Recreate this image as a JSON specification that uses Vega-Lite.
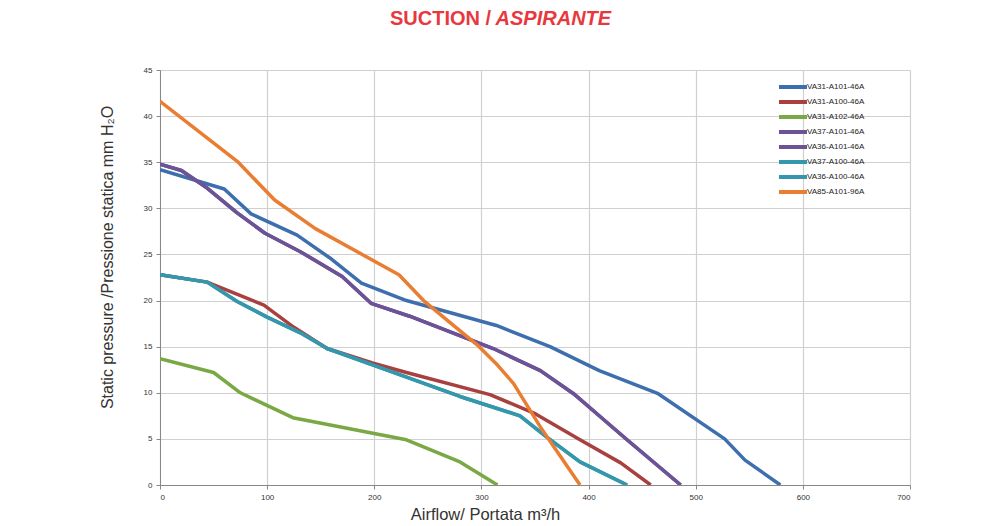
{
  "$schema": "https://vega.github.io/schema/vega-lite/v6.json",
  "autosize": "none",
  "width": 750,
  "height": 415,
  "padding": {"left": 160, "top": 70, "right": 90, "bottom": 41},
  "background": "white",
  "title": {
    "text": "SUCTION /",
    "subtitle": "\u200b\u00a0\u00a0\u00a0\u00a0\u00a0\u00a0\u00a0\u00a0\u00a0\u00a0\u00a0\u00a0\u00a0\u00a0\u00a0\u00a0\u00a0\u00a0\u00a0ASPIRANTE",
    "anchor": "start",
    "frame": "group",
    "dx": 230,
    "offset": 37,
    "font": "Liberation Sans",
    "fontSize": 20,
    "fontWeight": "bold",
    "color": "#e8383d",
    "subtitleFont": "Liberation Sans",
    "subtitleFontSize": 20,
    "subtitleFontWeight": "bold",
    "subtitleFontStyle": "italic",
    "subtitleColor": "#e8383d",
    "subtitlePadding": -20
  },
  "data": {
    "values": [
      {"s": "VA31-A101-46A", "x": 0, "y": 34.2},
      {"s": "VA31-A101-46A", "x": 60, "y": 32.1},
      {"s": "VA31-A101-46A", "x": 85, "y": 29.4},
      {"s": "VA31-A101-46A", "x": 128, "y": 27.1},
      {"s": "VA31-A101-46A", "x": 160, "y": 24.5},
      {"s": "VA31-A101-46A", "x": 188, "y": 21.9},
      {"s": "VA31-A101-46A", "x": 230, "y": 20.0},
      {"s": "VA31-A101-46A", "x": 314, "y": 17.3},
      {"s": "VA31-A101-46A", "x": 364, "y": 15.0},
      {"s": "VA31-A101-46A", "x": 410, "y": 12.4},
      {"s": "VA31-A101-46A", "x": 465, "y": 9.9},
      {"s": "VA31-A101-46A", "x": 527, "y": 5.0},
      {"s": "VA31-A101-46A", "x": 546, "y": 2.7},
      {"s": "VA31-A101-46A", "x": 579, "y": 0},
      {"s": "VA31-A100-46A", "x": 0, "y": 22.8},
      {"s": "VA31-A100-46A", "x": 44, "y": 22.0},
      {"s": "VA31-A100-46A", "x": 97, "y": 19.5},
      {"s": "VA31-A100-46A", "x": 125, "y": 17.1},
      {"s": "VA31-A100-46A", "x": 156, "y": 14.8},
      {"s": "VA31-A100-46A", "x": 199, "y": 13.2},
      {"s": "VA31-A100-46A", "x": 230, "y": 12.2},
      {"s": "VA31-A100-46A", "x": 308, "y": 9.8},
      {"s": "VA31-A100-46A", "x": 349, "y": 7.8},
      {"s": "VA31-A100-46A", "x": 392, "y": 4.9},
      {"s": "VA31-A100-46A", "x": 430, "y": 2.4},
      {"s": "VA31-A100-46A", "x": 458, "y": 0},
      {"s": "VA31-A102-46A", "x": 0, "y": 13.7},
      {"s": "VA31-A102-46A", "x": 50, "y": 12.2},
      {"s": "VA31-A102-46A", "x": 75, "y": 10.0},
      {"s": "VA31-A102-46A", "x": 124, "y": 7.3},
      {"s": "VA31-A102-46A", "x": 230, "y": 4.9},
      {"s": "VA31-A102-46A", "x": 280, "y": 2.5},
      {"s": "VA31-A102-46A", "x": 315, "y": 0},
      {"s": "VA37-A101-46A", "x": 0, "y": 34.8},
      {"s": "VA37-A101-46A", "x": 20, "y": 34.1},
      {"s": "VA37-A101-46A", "x": 44, "y": 32.2},
      {"s": "VA37-A101-46A", "x": 72, "y": 29.5},
      {"s": "VA37-A101-46A", "x": 98, "y": 27.3},
      {"s": "VA37-A101-46A", "x": 131, "y": 25.3},
      {"s": "VA37-A101-46A", "x": 170, "y": 22.6},
      {"s": "VA37-A101-46A", "x": 197, "y": 19.7},
      {"s": "VA37-A101-46A", "x": 233, "y": 18.3},
      {"s": "VA37-A101-46A", "x": 311, "y": 14.8},
      {"s": "VA37-A101-46A", "x": 355, "y": 12.4},
      {"s": "VA37-A101-46A", "x": 386, "y": 9.9},
      {"s": "VA37-A101-46A", "x": 411, "y": 7.4},
      {"s": "VA37-A101-46A", "x": 434, "y": 5.1},
      {"s": "VA37-A101-46A", "x": 486, "y": 0},
      {"s": "VA36-A101-46A", "x": 0, "y": 34.8},
      {"s": "VA36-A101-46A", "x": 20, "y": 34.1},
      {"s": "VA36-A101-46A", "x": 44, "y": 32.2},
      {"s": "VA36-A101-46A", "x": 72, "y": 29.5},
      {"s": "VA36-A101-46A", "x": 98, "y": 27.3},
      {"s": "VA36-A101-46A", "x": 131, "y": 25.3},
      {"s": "VA36-A101-46A", "x": 170, "y": 22.6},
      {"s": "VA36-A101-46A", "x": 197, "y": 19.7},
      {"s": "VA36-A101-46A", "x": 233, "y": 18.3},
      {"s": "VA36-A101-46A", "x": 311, "y": 14.8},
      {"s": "VA36-A101-46A", "x": 355, "y": 12.4},
      {"s": "VA36-A101-46A", "x": 386, "y": 9.9},
      {"s": "VA36-A101-46A", "x": 411, "y": 7.4},
      {"s": "VA36-A101-46A", "x": 434, "y": 5.1},
      {"s": "VA36-A101-46A", "x": 486, "y": 0},
      {"s": "VA37-A100-46A", "x": 0, "y": 22.8},
      {"s": "VA37-A100-46A", "x": 44, "y": 22.0},
      {"s": "VA37-A100-46A", "x": 72, "y": 19.9},
      {"s": "VA37-A100-46A", "x": 100, "y": 18.2},
      {"s": "VA37-A100-46A", "x": 131, "y": 16.5},
      {"s": "VA37-A100-46A", "x": 156, "y": 14.8},
      {"s": "VA37-A100-46A", "x": 199, "y": 13.0},
      {"s": "VA37-A100-46A", "x": 280, "y": 9.6},
      {"s": "VA37-A100-46A", "x": 336, "y": 7.5},
      {"s": "VA37-A100-46A", "x": 361, "y": 5.2},
      {"s": "VA37-A100-46A", "x": 392, "y": 2.5},
      {"s": "VA37-A100-46A", "x": 436, "y": 0},
      {"s": "VA36-A100-46A", "x": 0, "y": 22.8},
      {"s": "VA36-A100-46A", "x": 44, "y": 22.0},
      {"s": "VA36-A100-46A", "x": 72, "y": 19.9},
      {"s": "VA36-A100-46A", "x": 100, "y": 18.2},
      {"s": "VA36-A100-46A", "x": 131, "y": 16.5},
      {"s": "VA36-A100-46A", "x": 156, "y": 14.8},
      {"s": "VA36-A100-46A", "x": 199, "y": 13.0},
      {"s": "VA36-A100-46A", "x": 280, "y": 9.6},
      {"s": "VA36-A100-46A", "x": 336, "y": 7.5},
      {"s": "VA36-A100-46A", "x": 361, "y": 5.2},
      {"s": "VA36-A100-46A", "x": 392, "y": 2.5},
      {"s": "VA36-A100-46A", "x": 436, "y": 0},
      {"s": "VA85-A101-96A", "x": 0, "y": 41.6},
      {"s": "VA85-A101-96A", "x": 73, "y": 35.0},
      {"s": "VA85-A101-96A", "x": 107, "y": 30.9},
      {"s": "VA85-A101-96A", "x": 145, "y": 27.8},
      {"s": "VA85-A101-96A", "x": 223, "y": 22.8},
      {"s": "VA85-A101-96A", "x": 246, "y": 20.0},
      {"s": "VA85-A101-96A", "x": 273, "y": 17.4},
      {"s": "VA85-A101-96A", "x": 296, "y": 15.2},
      {"s": "VA85-A101-96A", "x": 315, "y": 13.0},
      {"s": "VA85-A101-96A", "x": 330, "y": 11.0},
      {"s": "VA85-A101-96A", "x": 355, "y": 6.3},
      {"s": "VA85-A101-96A", "x": 392, "y": 0}
    ]
  },
  "mark": {"type": "line", "strokeWidth": 3.5, "strokeCap": "butt", "strokeJoin": "round", "clip": true},
  "encoding": {
    "x": {
      "field": "x", "type": "quantitative",
      "scale": {"domain": [0, 700], "nice": false, "zero": true},
      "axis": {
        "values": [0, 100, 200, 300, 400, 500, 600, 700],
        "title": "Airflow/ Portata  m³/h",
        "titleFont": "Liberation Sans", "titleFontSize": 16.5, "titleFontWeight": "normal", "titleColor": "#333333",
        "titleX": 325, "titleY": 34, "titleBaseline": "alphabetic", "titleAlign": "center",
        "labelFont": "Liberation Sans", "labelFontSize": 8, "labelColor": "#333333", "labelPadding": 4,
        "tickSize": 4, "tickColor": "#888888", "domainColor": "#888888",
        "gridColor": "#d0d0d0", "gridWidth": 1.2
      }
    },
    "y": {
      "field": "y", "type": "quantitative",
      "scale": {"domain": [0, 45], "nice": false},
      "axis": {
        "values": [0, 5, 10, 15, 20, 25, 30, 35, 40, 45],
        "title": "Static pressure /Pressione statica  mm  H₂O",
        "titleFont": "Liberation Sans", "titleFontSize": 16, "titleFontWeight": "normal", "titleColor": "#333333",
        "titleX": -53, "titleY": 187, "titleAngle": -90, "titleBaseline": "middle", "titleAlign": "center",
        "labelFont": "Liberation Sans", "labelFontSize": 8, "labelColor": "#333333", "labelPadding": 4,
        "tickSize": 4, "tickColor": "#888888", "domainColor": "#888888",
        "gridColor": "#d0d0d0", "gridWidth": 1.2
      }
    },
    "color": {
      "field": "s", "type": "nominal",
      "scale": {
        "domain": ["VA31-A101-46A", "VA31-A100-46A", "VA31-A102-46A", "VA37-A101-46A", "VA36-A101-46A", "VA37-A100-46A", "VA36-A100-46A", "VA85-A101-96A"],
        "range": ["#3d6fae", "#a8403f", "#79a845", "#6c5396", "#6c5396", "#3497ab", "#3497ab", "#e97e33"]
      },
      "legend": {
        "title": null,
        "orient": "none",
        "legendX": 626,
        "legendY": 10,
        "padding": 0,
        "symbolType": "M-2.8,0H2.8",
        "symbolSize": 100,
        "symbolStrokeWidth": 4,
        "symbolFillColor": "transparent",
        "labelOffset": 7,
        "labelFont": "Liberation Sans",
        "labelFontSize": 8,
        "labelColor": "#222222",
        "rowPadding": -2
      }
    }
  },
  "config": {
    "view": {"stroke": null}
  }
}
